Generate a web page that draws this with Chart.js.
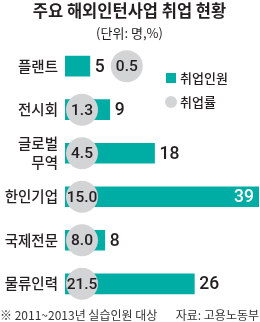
<!DOCTYPE html>
<html><head><meta charset="utf-8">
<script src="https://cdn.jsdelivr.net/npm/chart.js@4"></script>
<style>html,body{margin:0;padding:0;background:#fff}#wrap{width:260px;height:322px;position:relative}</style>
</head><body><div id="wrap"><canvas id="c" width="260" height="322"></canvas></div>
<script>
const categories = ['플랜트', '전시회', ['글로벌', '무역'], '한인기업', '국제전문', '물류인력'];
const employed = [5, 9, 18, 39, 8, 26];
const rate = [0.5, 1.3, 4.5, 15.0, 8.0, 21.5];
const legendLabels = ['취업인원', '취업률'];
const titleText = '주요 해외인턴사업 취업 현황';
const subtitleText = '(단위: 명,%)';
const noteText = '※ 2011~2013년 실습인원 대상';
const sourceText = '자료: 고용노동부';

const TEAL = '#00ada5', GREY = '#d3d4d6', INK = '#231f20';
const KR = '"Noto Sans CJK KR"';

const overlay = {
  id: 'overlay',
  afterDatasetsDraw(chart) {
    const ctx = chart.ctx, area = chart.chartArea;
    const meta = chart.getDatasetMeta(0);
    const R = 16;
    ctx.save();
    meta.data.forEach((bar, i) => {
      const txt = String(employed[i]);
      ctx.font = '500 17.5px Roboto';
      ctx.textBaseline = 'middle';
      const w = ctx.measureText(txt).width;
      let labelEnd = null;
      if (bar.x + 5 + w > area.right) {
        ctx.fillStyle = '#fff'; ctx.textAlign = 'right';
        ctx.fillText(txt, bar.x - 5, bar.y + 1);
      } else {
        ctx.fillStyle = INK; ctx.textAlign = 'left';
        ctx.fillText(txt, bar.x + 5, bar.y + 1);
        labelEnd = bar.x + 5 + w;
      }
      let cx = bar.base + 17;
      if (bar.x - bar.base < 2 * R + 4 && labelEnd !== null) cx = labelEnd + 6 + R;
      ctx.beginPath();
      ctx.arc(cx, bar.y, R, 0, Math.PI * 2);
      ctx.fillStyle = GREY; ctx.fill();
      ctx.fillStyle = INK; ctx.textAlign = 'center';
      ctx.font = '500 15.5px Roboto';
      ctx.fillText(rate[i].toFixed(1), cx, bar.y + 1);
    });
    // legend
    const lx = area.left + 101;
    ctx.fillStyle = TEAL;
    ctx.fillRect(lx, 73, 10, 10);
    ctx.beginPath(); ctx.arc(lx + 5, 102, 6, 0, Math.PI * 2);
    ctx.fillStyle = GREY; ctx.fill();
    ctx.fillStyle = INK; ctx.textAlign = 'left'; ctx.textBaseline = 'middle';
    ctx.font = '500 13px ' + KR;
    ctx.fillText(legendLabels[0], lx + 14, 78);
    ctx.fillText(legendLabels[1], lx + 14, 102);
    // footer
    ctx.font = '12px ' + KR;
    ctx.fillStyle = '#333';
    ctx.textAlign = 'left';
    ctx.fillText(noteText, 0, 315);
    ctx.textAlign = 'right';
    ctx.fillText(sourceText, 259, 315);
    ctx.restore();
  }
};

new Chart(document.getElementById('c').getContext('2d'), {
  type: 'bar',
  data: {
    labels: categories,
    datasets: [{ data: employed, backgroundColor: TEAL, barThickness: 20 }]
  },
  options: {
    indexAxis: 'y',
    responsive: false,
    animation: false,
    layout: { padding: { top: 0, right: 1, bottom: 16, left: 0 } },
    plugins: {
      legend: { display: false },
      tooltip: { enabled: false },
      title: {
        display: true, text: titleText, color: INK,
        font: { family: KR, size: 16.5, weight: 'bold', lineHeight: 1.2 },
        padding: { top: 1, bottom: 4 }
      },
      subtitle: {
        display: true, text: subtitleText, color: INK,
        font: { family: KR, size: 13, lineHeight: 1.2 },
        padding: { top: 0, bottom: 4 }
      }
    },
    scales: {
      x: { display: false, min: 0, max: 39 },
      y: {
        grid: { display: false, drawTicks: false },
        border: { display: false },
        ticks: { color: INK, padding: 7, font: { family: KR, size: 14.5, weight: '500', lineHeight: 1.3 } },
        afterFit(s) { s.width = 65; }
      }
    }
  },
  plugins: [overlay]
});
</script>
</body></html>
